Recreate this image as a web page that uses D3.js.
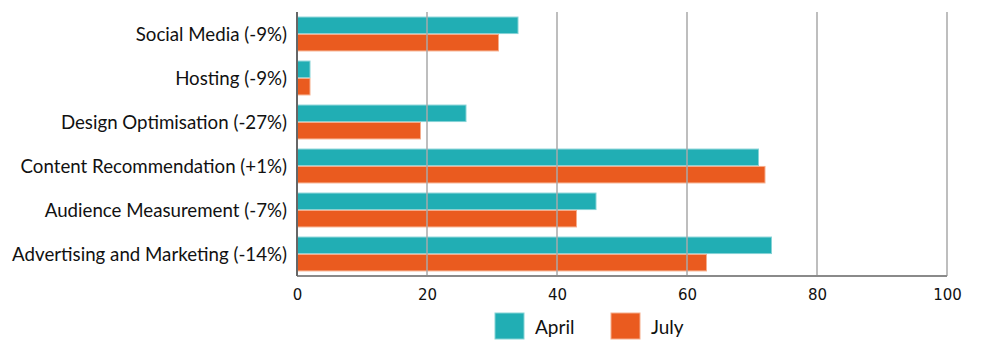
<!DOCTYPE html>
<html>
<head>
<meta charset="utf-8">
<script src="https://cdn.jsdelivr.net/npm/d3@7"></script>
<style>
  html, body { margin: 0; padding: 0; background: #fff; }
  .label { font-family: Lato, sans-serif; font-size: 18.7px; fill: #111; }
  .tick-label { font-family: "DejaVu Sans", sans-serif; font-size: 15px; fill: #111; }
  .legend-label { font-family: Lato, sans-serif; font-size: 19px; fill: #111; }
</style>
</head>
<body>
<div id="chart"></div>
<script>
const categories = [
  'Social Media (-9%)',
  'Hosting (-9%)',
  'Design Optimisation (-27%)',
  'Content Recommendation (+1%)',
  'Audience Measurement (-7%)',
  'Advertising and Marketing (-14%)'
];
const seriesNames = ['April', 'July'];
const april = [34, 2, 26, 71, 46, 73];
const july = [31, 2, 19, 72, 43, 63];
const xTicks = [0, 20, 40, 60, 80, 100];
const colors = ['#21aeb4', '#ea5b1f'];
const strokes = ['#86d3d6', '#f6ad8c'];

let margin = { top: 12, right: 57, bottom: 70, left: 297 };
let width = 1004 - margin.left - margin.right;
let height = 346 - margin.top - margin.bottom;

let svg = d3.select('#chart')
  .append('svg')
  .attr('width', 1004)
  .attr('height', 346)
  .append('g')
  .attr('transform', `translate(${margin.left}, ${margin.top})`);

let xScale = d3.scaleLinear().domain([0, 100]).range([0, width]);
let yScale = d3.scaleBand()
  .domain(categories)
  .range([0, height])
  .paddingInner(0.23)
  .paddingOuter(0.115);
let sScale = d3.scaleBand()
  .domain(seriesNames)
  .range([0, yScale.bandwidth()])
  .paddingInner(0.05);

let rows = categories.map((c, i) => ({ cat: c, values: [april[i], july[i]] }));

let groups = svg.selectAll('g.row')
  .data(rows)
  .enter()
  .append('g')
  .attr('class', 'row')
  .attr('transform', d => `translate(0, ${yScale(d.cat)})`);

groups.selectAll('rect')
  .data(d => d.values.map((v, j) => ({ name: seriesNames[j], value: v, j: j })))
  .enter()
  .append('rect')
  .attr('x', 0)
  .attr('y', d => sScale(d.name))
  .attr('width', d => xScale(d.value))
  .attr('height', sScale.bandwidth())
  .attr('fill', d => colors[d.j])
  .attr('stroke', d => strokes[d.j])
  .attr('stroke-width', 1);

// gridlines sit on top of the bars
svg.selectAll('line.grid')
  .data(xTicks.slice(1))
  .enter()
  .append('line')
  .attr('class', 'grid')
  .attr('x1', d => xScale(d))
  .attr('x2', d => xScale(d))
  .attr('y1', 0)
  .attr('y2', height)
  .attr('stroke', '#a8a8a8')
  .attr('stroke-width', 1.5);

// bottom axis
let xAxis = d3.axisBottom(xScale)
  .tickValues(xTicks)
  .tickSize(0)
  .tickPadding(13);
let gx = svg.append('g')
  .attr('transform', `translate(0, ${height})`)
  .call(xAxis);
gx.select('.domain')
  .attr('stroke', '#8a8a8a')
  .attr('stroke-width', 2)
  .attr('d', `M0,0H${width}`);
gx.selectAll('text')
  .attr('class', 'tick-label')
  .attr('fill', null);

// left axis
let yAxis = d3.axisLeft(yScale)
  .tickSize(0)
  .tickPadding(10);
let gy = svg.append('g').call(yAxis);
gy.select('.domain')
  .attr('stroke', '#666')
  .attr('stroke-width', 2)
  .attr('d', `M0,0V${height}`);
gy.selectAll('text')
  .attr('class', 'label')
  .attr('fill', null)
  .attr('dy', '0.4em');

// legend
let legend = svg.append('g')
  .attr('transform', `translate(${495 - margin.left}, ${313 - margin.top})`);
let legendItems = legend.selectAll('g')
  .data(seriesNames)
  .enter()
  .append('g')
  .attr('transform', (d, i) => `translate(${i * 116}, 0)`);
legendItems.append('rect')
  .attr('width', 29)
  .attr('height', 26)
  .attr('fill', (d, i) => colors[i])
  .attr('stroke', (d, i) => strokes[i])
  .attr('stroke-width', 1);
legendItems.append('text')
  .attr('class', 'legend-label')
  .attr('x', 40)
  .attr('y', 21)
  .text(d => d);
</script>
</body>
</html>
